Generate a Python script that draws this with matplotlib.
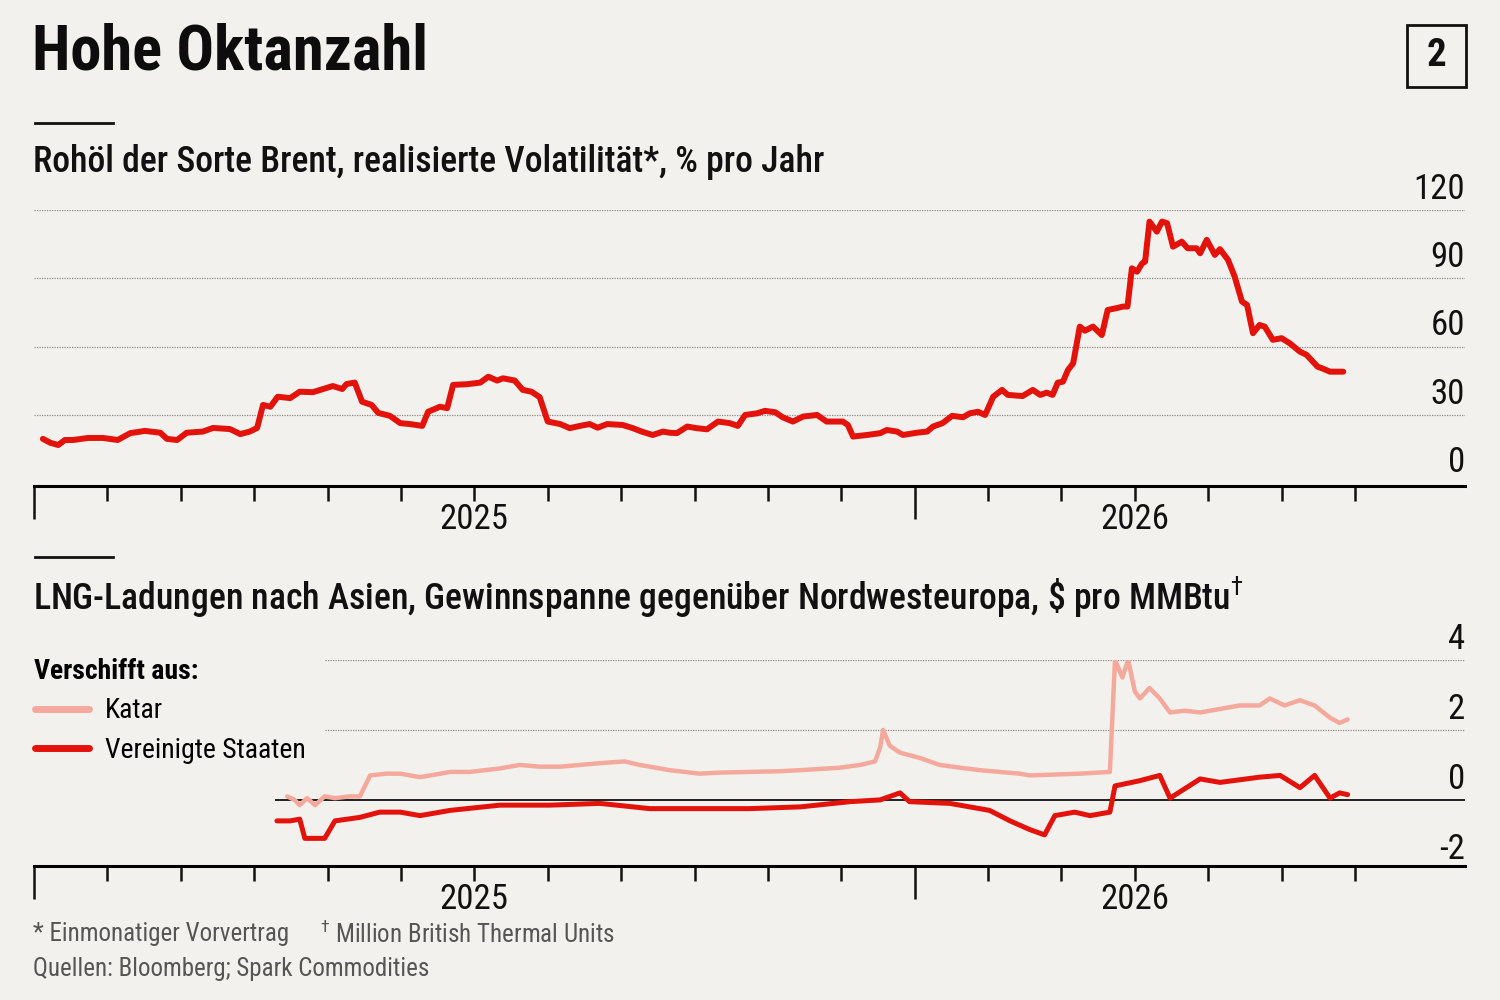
import matplotlib
matplotlib.use("Agg")
import matplotlib.pyplot as plt
import matplotlib.transforms as mtransforms
from matplotlib.lines import Line2D

plt.rcParams['font.family'] = ['Roboto Condensed', 'DejaVu Sans']
plt.rcParams['mathtext.fontset'] = 'custom'
plt.rcParams['mathtext.rm'] = 'Roboto Condensed'
plt.rcParams['mathtext.bf'] = 'Roboto Condensed:bold'

bg = '#f2f1ed'
red = '#e3120b'
pink = '#f5a99c'

# x axis in months from the left edge of the axis
month_ticks = list(range(19))
long_ticks = [0, 12]
year_pos = [6, 15]
year_labels = ['2025', '2026']

# Brent realised volatility, % per year
brent_x = [0.12, 0.22, 0.33, 0.42, 0.53, 0.74, 0.94, 1.14, 1.31, 1.51, 1.72, 1.81, 1.95, 2.08, 2.30,
           2.44, 2.67, 2.81, 2.94, 3.04, 3.12, 3.22, 3.32, 3.49, 3.62, 3.80, 3.94, 4.07, 4.20, 4.26,
           4.37, 4.47, 4.60, 4.69, 4.85, 4.99, 5.12, 5.29, 5.37, 5.53, 5.63, 5.71, 5.90, 6.08, 6.19,
           6.31, 6.39, 6.55, 6.66, 6.78, 6.89, 7.00, 7.17, 7.30, 7.44, 7.57, 7.68, 7.81, 8.02, 8.16,
           8.28, 8.43, 8.57, 8.66, 8.76, 8.90, 9.03, 9.17, 9.32, 9.48, 9.59, 9.69, 9.85, 9.96, 10.10,
           10.20, 10.34, 10.48, 10.67, 10.80, 11.02, 11.09, 11.16, 11.35, 11.53, 11.62, 11.76, 11.84,
           12.03, 12.17, 12.25, 12.38, 12.51, 12.66, 12.75, 12.86, 12.96, 13.07, 13.19, 13.27, 13.47,
           13.61, 13.71, 13.80, 13.88, 13.95, 14.02, 14.09, 14.16, 14.25, 14.32, 14.43, 14.55, 14.63,
           14.75, 14.84, 14.90, 14.96, 15.03, 15.10, 15.14, 15.20, 15.30, 15.37, 15.44, 15.52, 15.64,
           15.72, 15.84, 15.89, 15.98, 16.09, 16.16, 16.27, 16.36, 16.46, 16.53, 16.61, 16.70, 16.77,
           16.88, 17.00, 17.11, 17.25, 17.34, 17.49, 17.55, 17.66, 17.84]
brent_y = [19.5, 17.8, 16.8, 19.0, 19.0, 19.9, 19.9, 19.0, 22.0, 23.0, 22.2, 19.5, 19.0, 22.2, 22.7,
           24.3, 23.8, 21.6, 22.7, 24.3, 34.4, 33.6, 38.0, 37.4, 40.2, 40.0, 41.4, 42.7, 41.4, 43.6,
           44.2, 35.8, 34.4, 30.9, 29.6, 26.4, 26.0, 25.2, 31.4, 33.6, 33.0, 43.2, 43.5, 44.2, 46.8,
           45.1, 46.1, 45.1, 41.0, 40.2, 37.8, 27.1, 26.0, 24.2, 25.2, 26.0, 24.4, 26.0, 25.6, 24.2,
           22.7, 21.2, 22.7, 22.2, 22.0, 24.9, 24.2, 23.7, 27.1, 26.4, 25.2, 30.0, 30.7, 31.8, 31.2,
           29.0, 27.1, 29.3, 30.0, 27.1, 27.1, 25.6, 20.5, 21.2, 22.0, 23.4, 22.7, 21.2,
           22.2, 22.7, 24.9, 26.4, 29.6, 29.0, 30.7, 31.4, 30.0, 38.0, 41.0, 38.8, 38.3,
           41.0, 38.8, 39.8, 38.8, 44.2, 44.6, 49.8, 52.7, 68.8, 67.0, 68.8, 65.1, 76.1,
           76.9, 77.6, 77.6, 94.4, 92.9, 96.6, 97.3, 114.9, 110.5, 114.9, 114.2, 103.9, 106.1,
           103.2, 103.2, 101.0, 106.9, 100.3, 102.8, 98.1, 90.8, 79.8, 78.3, 65.9, 69.5, 68.8,
           63.0, 63.7, 61.5, 57.8, 56.4, 51.2, 50.5, 49.0, 49.0]

# LNG cargo margin to Asia vs north-west Europe, $ per MMBtu
katar_x = [3.45, 3.55, 3.62, 3.72, 3.83, 3.96, 4.10, 4.30, 4.44, 4.58, 4.80, 4.99, 5.26, 5.40, 5.67,
           5.94, 6.35, 6.62, 6.89, 7.17, 7.44, 7.71, 8.05, 8.25, 8.39, 8.66, 9.07, 9.34, 9.75, 10.16,
           10.44, 10.98, 11.26, 11.46, 11.53, 11.57, 11.66, 11.80, 12.07, 12.34, 12.62, 12.89, 13.16,
           13.43, 13.57, 13.84, 14.25, 14.66, 14.73, 14.83, 14.91, 15.00, 15.07, 15.20, 15.34, 15.48,
           15.68, 15.89, 16.16, 16.43, 16.70, 16.84, 17.04, 17.25, 17.45, 17.66, 17.79, 17.90]
katar_y = [0.1, 0.0, -0.15, 0.05, -0.15, 0.1, 0.05, 0.1, 0.1, 0.7, 0.75, 0.75, 0.65, 0.7, 0.8,
           0.8, 0.9, 1.0, 0.95, 0.95, 1.0, 1.05, 1.1, 1.0, 0.95, 0.85, 0.75, 0.78, 0.8, 0.82,
           0.85, 0.92, 1.0, 1.1, 1.5, 2.0, 1.55, 1.35, 1.2, 1.0, 0.92, 0.85, 0.8,
           0.75, 0.7, 0.72, 0.75, 0.8, 4.0, 3.5, 4.0, 3.1, 2.9, 3.2, 2.9, 2.5,
           2.55, 2.5, 2.6, 2.7, 2.7, 2.9, 2.7, 2.85, 2.7, 2.35, 2.2, 2.3]

usa_x = [3.31, 3.49, 3.62, 3.69, 3.96, 4.10, 4.44, 4.71, 4.99, 5.26, 5.67, 6.35, 7.03, 7.71, 8.39,
         9.07, 9.75, 10.44, 11.12, 11.53, 11.80, 11.93, 12.48, 13.02, 13.30, 13.57, 13.77, 13.91,
         14.18, 14.39, 14.66, 14.73, 15.07, 15.34, 15.48, 15.89, 16.16, 16.70, 16.98, 17.25, 17.45,
         17.66, 17.79, 17.90]
usa_y = [-0.6, -0.6, -0.55, -1.1, -1.1, -0.6, -0.5, -0.35, -0.35, -0.45, -0.3, -0.15, -0.15, -0.1, -0.25,
         -0.25, -0.25, -0.2, -0.05, 0.0, 0.2, -0.05, -0.1, -0.3, -0.6, -0.85, -1.0, -0.45,
         -0.35, -0.45, -0.35, 0.4, 0.55, 0.7, 0.05, 0.6, 0.5, 0.65, 0.7, 0.35, 0.7,
         0.05, 0.2, 0.15]

top_ticks = [0, 30, 60, 90, 120]
bottom_ticks = [4, 2, 0, -2]

fig = plt.figure(figsize=(15, 10), dpi=100, facecolor=bg)

ax1 = fig.add_axes([0.0227, 0.514, 0.954, 0.276])
ax2 = fig.add_axes([0.0227, 0.134, 0.954, 0.206])


def style_xaxis(ax):
    ax.set_facecolor(bg)
    ax.set_xlim(0, 19.5)
    for s in ['top', 'left', 'right']:
        ax.spines[s].set_visible(False)
    ax.spines['bottom'].set_linewidth(2.2)
    ax.set_xticks(long_ticks, labels=['', ''])
    ax.set_xticks(month_ticks, minor=True,
                  labels=[year_labels[year_pos.index(t)] if t in year_pos else '' for t in month_ticks])
    ax.tick_params(axis='x', which='major', length=24, width=1.8, color='#111')
    ax.tick_params(axis='x', which='minor', length=11, width=1.8, color='#111',
                   labelsize=25, pad=1, labelcolor='#111')
    ax.set_yticks([])


def ylabels(ax, ticks, fmt):
    trans = mtransforms.blended_transform_factory(ax.transAxes, ax.transData)
    for t in ticks:
        ax.annotate(fmt(t), xy=(1.0, t), xycoords=trans, xytext=(0, 3), textcoords='offset points',
                    ha='right', va='bottom', fontsize=25, color='#111', annotation_clip=False)


# top panel
style_xaxis(ax1)
ax1.set_ylim(-1.2, 120)
for v in top_ticks[1:]:
    ax1.axhline(v, color='#8a8a8a', lw=0.9, ls=(0, (1, 1)), zorder=1)
ax1.plot(brent_x, brent_y, color=red, lw=4.3, solid_joinstyle='round', solid_capstyle='round', zorder=3)
ylabels(ax1, top_ticks, lambda t: str(t))

# bottom panel
style_xaxis(ax2)
ax2.set_ylim(-1.89, 4)
for v in [2, 4]:
    ax2.hlines(v, 3.96, 19.5, color='#8a8a8a', lw=0.9, ls=(0, (1, 1)), zorder=1)
ax2.hlines(0, 3.28, 19.5, color='#111', lw=1.3, zorder=2)
ax2.plot(katar_x, katar_y, color=pink, lw=3.2, solid_joinstyle='round', solid_capstyle='round', zorder=3)
ax2.plot(usa_x, usa_y, color=red, lw=3.6, solid_joinstyle='round', solid_capstyle='round', zorder=4)
ylabels(ax2, bottom_ticks, lambda t: str(t))

handles = [Line2D([], [], color=pink, lw=5, solid_capstyle='round'),
           Line2D([], [], color=red, lw=5, solid_capstyle='round')]
leg = fig.legend(handles, ['Katar', 'Vereinigte Staaten'], title='Verschifft aus:',
                 loc='upper left', bbox_to_anchor=(0.023, 0.342), frameon=False,
                 fontsize=20, title_fontproperties={'weight': 'bold', 'size': 20},
                 alignment='left', handlelength=1.95, handletextpad=0.6, labelspacing=0.45,
                 borderpad=0, borderaxespad=0)

# titles and rules
fig.text(0.021, 0.948, 'Hohe Oktanzahl', fontsize=45, fontweight='bold', va='center', ha='left', color='#0d0d0d')
fig.add_artist(Line2D([0.023, 0.075], [0.877, 0.877], color='#111', lw=2))
fig.text(0.022, 0.838, 'Rohöl der Sorte Brent, realisierte Volatilität*, % pro Jahr',
         fontsize=25.7, fontweight='medium', va='center', ha='left', color='#111')
fig.add_artist(Line2D([0.023, 0.075], [0.443, 0.443], color='#111', lw=2))
fig.text(0.022, 0.403, r'LNG-Ladungen nach Asien, Gewinnspanne gegenüber Nordwesteuropa, \$ pro MMBtu$^{†}$',
         fontsize=25.7, fontweight='medium', va='center', ha='left', color='#111')

# number box
fig.add_artist(plt.Rectangle((0.938, 0.913), 0.039, 0.062, transform=fig.transFigure,
                             fill=False, edgecolor='#111', lw=2))
fig.text(0.9575, 0.944, '2', fontsize=28, fontweight='bold', ha='center', va='center', color='#111')

# footnotes
fig.text(0.022, 0.066, '* Einmonatiger Vorvertrag', fontsize=18, color='#555', va='center')
fig.text(0.213, 0.066, r'$^{†}$ Million British Thermal Units', fontsize=18, color='#555', va='center')
fig.text(0.022, 0.031, 'Quellen: Bloomberg; Spark Commodities', fontsize=18, color='#555', va='center')

fig.savefig('out.png', dpi=100, facecolor=bg)
